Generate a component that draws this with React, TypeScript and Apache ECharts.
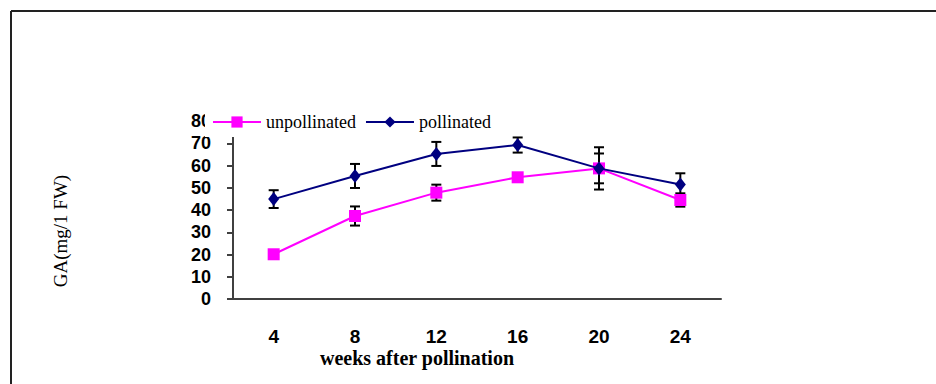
import React, { useEffect, useRef } from "react";
import * as echarts from "echarts";

const weeks = ["4", "8", "12", "16", "20", "24"];
const unpollinated = [20.1, 37.3, 47.8, 54.7, 58.7, 44.5];
const unpollinatedErr = [0, 4.3, 3.6, 0, 6.7, 3];
const pollinated = [44.9, 55.3, 65.2, 69.2, 58.7, 51.5];
const pollinatedErr = [4, 5.4, 5.4, 3.4, 9.5, 5];
const yMin = 0;
const yMax = 80;
const yInterval = 10;
const yAxisTitle = "GA(mg/1 FW)";
const xAxisTitle = "weeks after pollination";

const SERIF = "'Liberation Serif', 'Times New Roman', serif";
const SANS = "'Liberation Sans', Arial, sans-serif";

function errData(vals: number[], errs: number[]) {
  return vals.map((v, i) => [i, v, errs[i]]);
}

function errRender(params: any, api: any) {
  const x = api.value(0);
  const v = api.value(1);
  const e = api.value(2);
  if (!e) return { type: "group", children: [] };
  const top = api.coord([x, v + e]);
  const bot = api.coord([x, v - e]);
  const hw = 5;
  const style = { stroke: "#000", lineWidth: 2 };
  return {
    type: "group",
    children: [
      { type: "line", shape: { x1: top[0], y1: top[1], x2: bot[0], y2: bot[1] }, style },
      { type: "line", shape: { x1: top[0] - hw, y1: top[1], x2: top[0] + hw, y2: top[1] }, style },
      { type: "line", shape: { x1: bot[0] - hw, y1: bot[1], x2: bot[0] + hw, y2: bot[1] }, style },
    ],
  };
}

export default function App() {
  const ref = useRef<HTMLDivElement>(null);
  useEffect(() => {
    document.body.style.margin = "0";
    const chart = echarts.init(ref.current!, undefined, { renderer: "svg" });
    const axisColor = "#404040";
    chart.setOption({
      animation: false,
      backgroundColor: "#fff",
      grid: { left: 233, top: 121, width: 488, height: 178 },
      legend: {
        data: ["unpollinated", "pollinated"],
        left: 205,
        top: 107,
        padding: [6, 7, 6, 7],
        itemWidth: 48,
        itemHeight: 14,
        itemGap: 9,
        backgroundColor: "#fff",
        textStyle: { fontFamily: SERIF, fontSize: 18, color: "#000", lineHeight: 14 },
      },
      xAxis: {
        type: "category",
        data: weeks,
        axisLine: { lineStyle: { color: axisColor, width: 2 } },
        axisTick: { length: 7, lineStyle: { color: axisColor, width: 2 } },
        axisLabel: { margin: 28, fontFamily: SANS, fontSize: 19, fontWeight: "bold", color: "#000" },
      },
      yAxis: {
        type: "value",
        min: yMin,
        max: yMax,
        interval: yInterval,
        splitLine: { show: false },
        axisLine: { show: true, lineStyle: { color: axisColor, width: 2 } },
        axisTick: { show: true, length: 6, lineStyle: { color: axisColor, width: 2 } },
        axisLabel: { margin: 22, fontFamily: SANS, fontSize: 18, fontWeight: "bold", color: "#000" },
      },
      graphic: [
        { type: "line", shape: { x1: 11, y1: 11, x2: 936, y2: 11 }, style: { stroke: "#222", lineWidth: 2 } },
        { type: "line", shape: { x1: 11, y1: 11, x2: 11, y2: 384 }, style: { stroke: "#222", lineWidth: 2 } },
        {
          type: "text",
          x: 60,
          y: 231,
          rotation: Math.PI / 2,
          style: { text: yAxisTitle, font: `19px ${SERIF}`, fill: "#000", align: "center", verticalAlign: "middle" },
        },
        {
          type: "text",
          x: 417,
          y: 358,
          style: { text: xAxisTitle, font: `bold 20px ${SERIF}`, fill: "#000", align: "center", verticalAlign: "middle" },
        },
      ],
      series: [
        {
          type: "custom",
          name: "errU",
          renderItem: errRender,
          data: errData(unpollinated, unpollinatedErr),
          encode: { x: 0, y: 1 },
          z: 1,
        },
        {
          type: "custom",
          name: "errP",
          renderItem: errRender,
          data: errData(pollinated, pollinatedErr),
          encode: { x: 0, y: 1 },
          z: 1,
        },
        {
          type: "line",
          name: "unpollinated",
          data: unpollinated,
          symbol: "rect",
          symbolSize: 12,
          color: "#FF00FF",
          itemStyle: { color: "#FF00FF" },
          lineStyle: { color: "#FF00FF", width: 2 },
          z: 3,
        },
        {
          type: "line",
          name: "pollinated",
          data: pollinated,
          symbol: "diamond",
          symbolSize: [11, 14],
          color: "#000080",
          itemStyle: { color: "#000080" },
          lineStyle: { color: "#000080", width: 2 },
          z: 4,
        },
      ],
    });
    return () => chart.dispose();
  }, []);
  return <div ref={ref} style={{ width: 936, height: 384 }} />;
}
